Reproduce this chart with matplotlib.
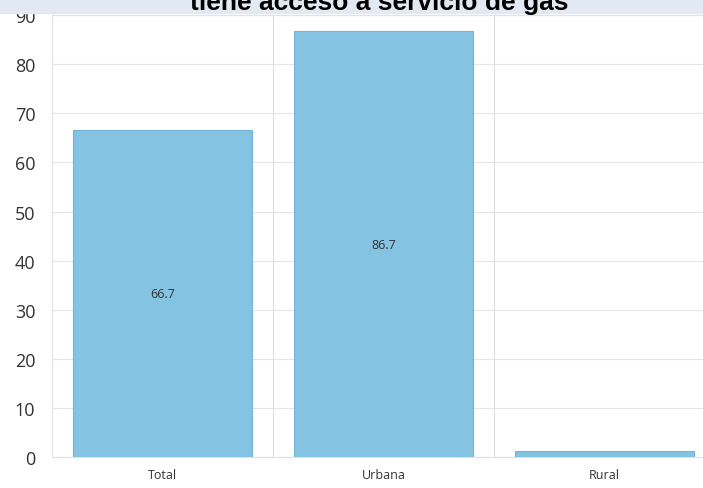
import matplotlib.pyplot as plt
import matplotlib.patches as mpatches
import numpy as np

categorias = ["Total", "Urbana", "Rural"]
valores = [66.7, 86.7, 1.2]
etiquetas = ["66.7", "86.7", ""]
yticks = [0, 10, 20, 30, 40, 50, 60, 70, 80, 90]

color_barra = "#85c3e3"

fig = plt.figure(figsize=(7.03, 4.89), dpi=100)
fig.patch.set_facecolor("white")

# franja superior (fondo de la imagen original)
fig.patches.append(mpatches.Rectangle((0, 0.972), 1, 0.028, transform=fig.transFigure,
                                      color="#e3e9f2", zorder=0))
fig.text(0.54, 0.994, "tiene acceso a servicio de gas", ha="center", va="center",
         fontsize=19, fontweight="bold", color="black", family="Liberation Sans")

ax = fig.add_axes([0.074, 0.0634, 0.943, 0.9036])
x = np.arange(len(categorias))
bars = ax.bar(x, valores, width=0.81, color=color_barra, edgecolor="#74b4d8", linewidth=0.8, zorder=3)

for b, t in zip(bars, etiquetas):
    ax.text(b.get_x() + b.get_width() / 2, b.get_height() / 2, t, ha="center", va="center",
            fontsize=9, color="#333333", family="Open Sans", zorder=4)

ax.set_xlim(-0.5, 2.5)
ax.set_ylim(0, 90)
ax.set_yticks(yticks)
ax.set_xticks(x)
ax.set_xticklabels(categorias, fontsize=9, color="#333333", family="Open Sans")
for lbl in ax.get_yticklabels():
    lbl.set_fontsize(13)
    lbl.set_color("#333333")
    lbl.set_family("Open Sans")
ax.tick_params(length=0, pad=8)
ax.tick_params(axis="y", pad=12)

ax.grid(axis="y", color="#e6e6e6", linewidth=0.8, zorder=0)
for xb in [0.5, 1.5]:
    ax.axvline(xb, color="#dddddd", linewidth=0.8, zorder=1)
for s in ax.spines.values():
    s.set_color("#e3e3e3")
    s.set_linewidth(0.8)

plt.savefig("out.png", dpi=100)
